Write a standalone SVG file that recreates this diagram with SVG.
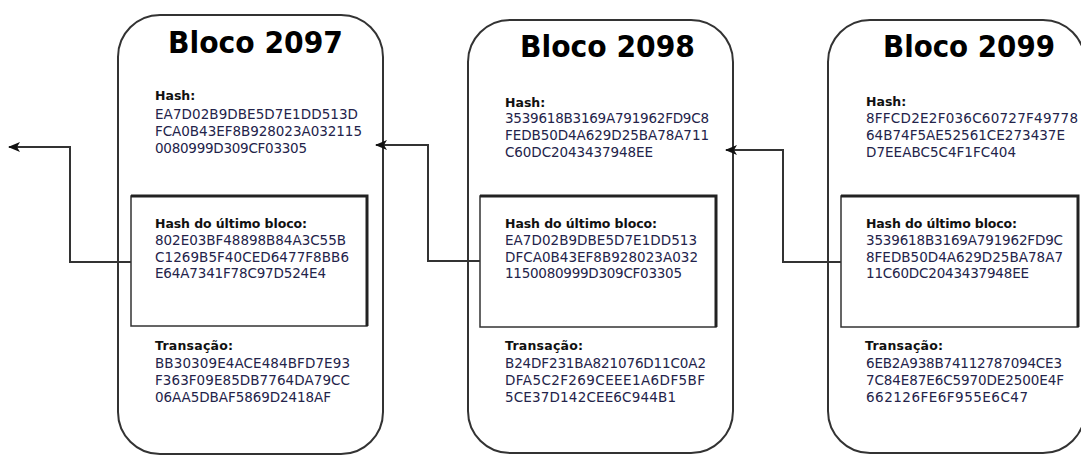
<svg xmlns="http://www.w3.org/2000/svg" width="1081" height="455" viewBox="0 0 1081 455">
<style>
.outer{fill:#fff;stroke:#333;stroke-width:2}
.inner{fill:none;stroke:#333;stroke-width:1.5}
.innerhi{fill:none;stroke:#222;stroke-width:3}
.title{font-family:"DejaVu Sans",sans-serif;font-weight:bold;font-size:31px;fill:#000}
.lbl{font-family:"DejaVu Sans",sans-serif;font-weight:bold;font-size:12.5px;fill:#111}
.hx{font-family:"DejaVu Sans",sans-serif;font-size:13.5px;fill:#23234a}
.conn{fill:none;stroke:#333;stroke-width:2}
</style>
<defs>
<marker id="ah" viewBox="0 0 12 10" refX="11" refY="5" markerWidth="12" markerHeight="10" markerUnits="userSpaceOnUse" orient="auto">
<path d="M0,0 L12,5 L0,10 L3,5 z" fill="#111"/>
</marker>
</defs>
<rect width="1081" height="455" fill="#fff"/>

<g id="bloco-2097">
<rect class="outer" x="118" y="15" width="265" height="439" rx="42" ry="42"/>
<text class="title" x="168" y="53" textLength="175" lengthAdjust="spacingAndGlyphs">Bloco 2097</text>
<text class="lbl" x="155" y="100">Hash:</text>
<text class="hx" x="155" y="119" textLength="203">EA7D02B9DBE5D7E1DD513D</text>
<text class="hx" x="155" y="136" textLength="207">FCA0B43EF8B928023A032115</text>
<text class="hx" x="155" y="153" textLength="152">0080999D309CF03305</text>
<rect class="inner" x="131" y="196" width="236" height="130"/>
<polyline class="innerhi" points="131,196 367,196 367,326"/>
<text class="lbl" x="155" y="228" textLength="152">Hash do último bloco:</text>
<text class="hx" x="155" y="245" textLength="191">802E03BF48898B84A3C55B</text>
<text class="hx" x="155" y="262" textLength="194">C1269B5F40CED6477F8BB6</text>
<text class="hx" x="155" y="278" textLength="171">E64A7341F78C97D524E4</text>
<text class="lbl" x="155" y="350" textLength="78">Transação:</text>
<text class="hx" x="155" y="368" textLength="195">BB30309E4ACE484BFD7E93</text>
<text class="hx" x="155" y="385" textLength="195">F363F09E85DB7764DA79CC</text>
<text class="hx" x="155" y="402" textLength="176">06AA5DBAF5869D2418AF</text>
</g>

<g id="bloco-2098">
<rect class="outer" x="468" y="20" width="265" height="433" rx="42" ry="42"/>
<text class="title" x="520" y="57" textLength="175" lengthAdjust="spacingAndGlyphs">Bloco 2098</text>
<text class="lbl" x="505" y="107">Hash:</text>
<text class="hx" x="505" y="123" textLength="204">3539618B3169A791962FD9C8</text>
<text class="hx" x="505" y="140" textLength="204">FEDB50D4A629D25BA78A711</text>
<text class="hx" x="505" y="157" textLength="148">C60DC2043437948EE</text>
<rect class="inner" x="480" y="196" width="236" height="131"/>
<polyline class="innerhi" points="480,196 716,196 716,327"/>
<text class="lbl" x="505" y="228" textLength="152">Hash do último bloco:</text>
<text class="hx" x="505" y="245" textLength="192">EA7D02B9DBE5D7E1DD513</text>
<text class="hx" x="505" y="262" textLength="193">DFCA0B43EF8B928023A032</text>
<text class="hx" x="505" y="278" textLength="177">1150080999D309CF03305</text>
<text class="lbl" x="505" y="350" textLength="78">Transação:</text>
<text class="hx" x="505" y="368" textLength="201">B24DF231BA821076D11C0A2</text>
<text class="hx" x="505" y="385" textLength="200">DFA5C2F269CEEE1A6DF5BF</text>
<text class="hx" x="505" y="402" textLength="171">5CE37D142CEE6C944B1</text>
</g>

<g id="bloco-2099">
<rect class="outer" x="828" y="20" width="257" height="433" rx="42" ry="42"/>
<text class="title" x="883" y="57" textLength="172" lengthAdjust="spacingAndGlyphs">Bloco 2099</text>
<text class="lbl" x="866" y="106">Hash:</text>
<text class="hx" x="866" y="123" textLength="212">8FFCD2E2F036C60727F49778</text>
<text class="hx" x="866" y="140" textLength="199">64B74F5AE52561CE273437E</text>
<text class="hx" x="866" y="157" textLength="150">D7EEABC5C4F1FC404</text>
<rect class="inner" x="841" y="196" width="237" height="131"/>
<polyline class="innerhi" points="841,196 1078,196 1078,327"/>
<text class="lbl" x="866" y="228" textLength="151">Hash do último bloco:</text>
<text class="hx" x="866" y="245" textLength="197">3539618B3169A791962FD9C</text>
<text class="hx" x="866" y="262" textLength="197">8FEDB50D4A629D25BA78A7</text>
<text class="hx" x="866" y="278" textLength="163">11C60DC2043437948EE</text>
<text class="lbl" x="865" y="350" textLength="78">Transação:</text>
<text class="hx" x="866" y="368" textLength="196">6EB2A938B74112787094CE3</text>
<text class="hx" x="866" y="385" textLength="198">7C84E87E6C5970DE2500E4F</text>
<text class="hx" x="866" y="402" textLength="162">662126FE6F955E6C47</text>
</g>

<g id="connectors">
<path class="conn" d="M131,262 H70 V147 H9" marker-end="url(#ah)"/>
<path class="conn" d="M480,261 H428 V145 H376" marker-end="url(#ah)"/>
<path class="conn" d="M841,262 H783 V150 H726" marker-end="url(#ah)"/>
</g>
</svg>
